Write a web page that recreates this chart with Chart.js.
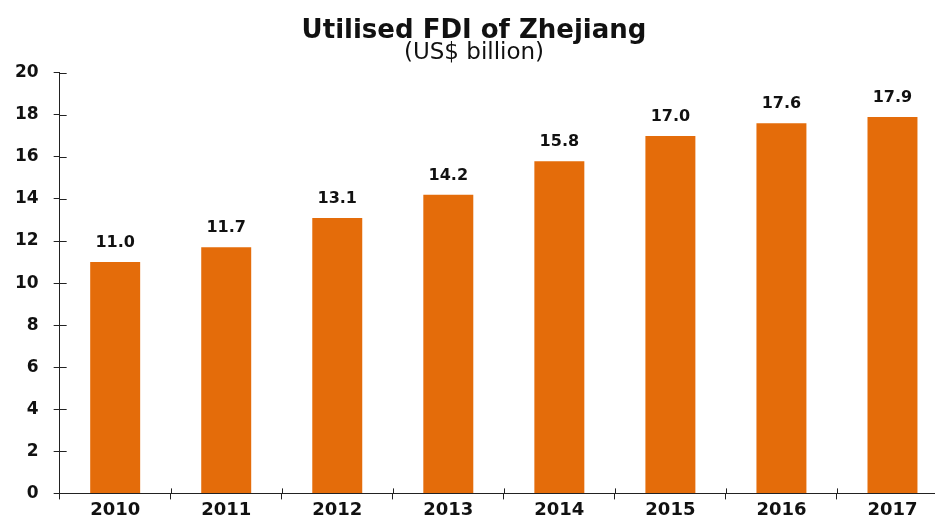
<!DOCTYPE html>
<html>
<head>
<meta charset="utf-8">
<script src="https://cdn.jsdelivr.net/npm/chart.js@4"></script>
<style>
  html,body{margin:0;padding:0;background:#fff;overflow:hidden}
  #wrap{position:relative;width:948px;height:521px}
</style>
</head>
<body>
<div id="wrap"><canvas id="fdiChart"></canvas></div>
<script>
// data
const years = ['2010','2011','2012','2013','2014','2015','2016','2017'];
const fdiValues = [11.0, 11.7, 13.1, 14.2, 15.8, 17.0, 17.6, 17.9];
const yTicks = [0,2,4,6,8,10,12,14,16,18,20];

const BAR = '#E46C0A';
const FONT = "'DejaVu Sans', 'Liberation Sans', Arial, sans-serif";

// value labels above each bar
const barLabels = {
  id: 'barLabels',
  afterDatasetsDraw(chart) {
    const ctx = chart.ctx;
    const meta = chart.getDatasetMeta(0);
    ctx.save();
    ctx.font = 'bold 16px ' + FONT;
    ctx.fillStyle = '#111';
    ctx.textAlign = 'center';
    ctx.textBaseline = 'alphabetic';
    meta.data.forEach((bar, i) => {
      ctx.fillText(fdiValues[i].toFixed(1), bar.x, bar.y - 15);
    });
    ctx.restore();
  }
};

// ticks cross the axis lines (inner half)
const crossTicks = {
  id: 'crossTicks',
  afterDraw(chart) {
    const ctx = chart.ctx, x = chart.scales.x, y = chart.scales.y;
    ctx.save();
    ctx.strokeStyle = '#222';
    ctx.lineWidth = 1;
    ctx.beginPath();
    yTicks.forEach(v => {
      const py = Math.round(y.getPixelForValue(v)) + 0.5;
      ctx.moveTo(y.right, py); ctx.lineTo(y.right + 7, py);
    });
    for (let i = 0; i < years.length - 1; i++) {
      const px = Math.round((x.getPixelForValue(i) + x.getPixelForValue(i + 1)) / 2) + 0.5;
      ctx.moveTo(px, x.top); ctx.lineTo(px, x.top - 5);
    }
    ctx.stroke();
    ctx.restore();
  }
};

new Chart(document.getElementById('fdiChart').getContext('2d'), {
  type: 'bar',
  data: {
    labels: years,
    datasets: [{
      label: 'Utilised FDI',
      data: fdiValues,
      backgroundColor: BAR,
      borderWidth: 0,
      barPercentage: 0.9,
      categoryPercentage: 0.5
    }]
  },
  options: {
    responsive: true,
    maintainAspectRatio: false,
    animation: false,
    layout: { padding: { left: 0, right: 0, top: 16, bottom: 0 } },
    plugins: {
      legend: { display: false },
      tooltip: { enabled: false },
      title: {
        display: true,
        text: 'Utilised FDI of Zhejiang',
        color: '#111',
        font: { family: FONT, size: 26, weight: 'bold' },
        padding: { top: 0, bottom: 0 }
      },
      subtitle: {
        display: true,
        text: '(US$ billion)',
        color: '#111',
        font: { family: FONT, size: 23 },
        padding: { top: -8, bottom: 6 }
      }
    },
    scales: {
      x: {
        grid: { display: true, drawOnChartArea: false, offset: true, tickLength: 6, color: '#222' },
        border: { display: true, color: '#222', width: 1 },
        ticks: { color: '#111', font: { family: FONT, size: 18, weight: 'bold' }, padding: 0 }
      },
      y: {
        min: 0,
        max: 20,
        afterBuildTicks(scale) { scale.ticks = yTicks.map(v => ({ value: v })); },
        grid: { display: true, drawOnChartArea: false, tickLength: 6, color: '#222' },
        border: { display: true, color: '#222', width: 1 },
        ticks: { color: '#111', font: { family: FONT, size: 17, weight: 'bold' }, padding: 15 }
      }
    }
  },
  plugins: [barLabels, crossTicks]
});
</script>
</body>
</html>
